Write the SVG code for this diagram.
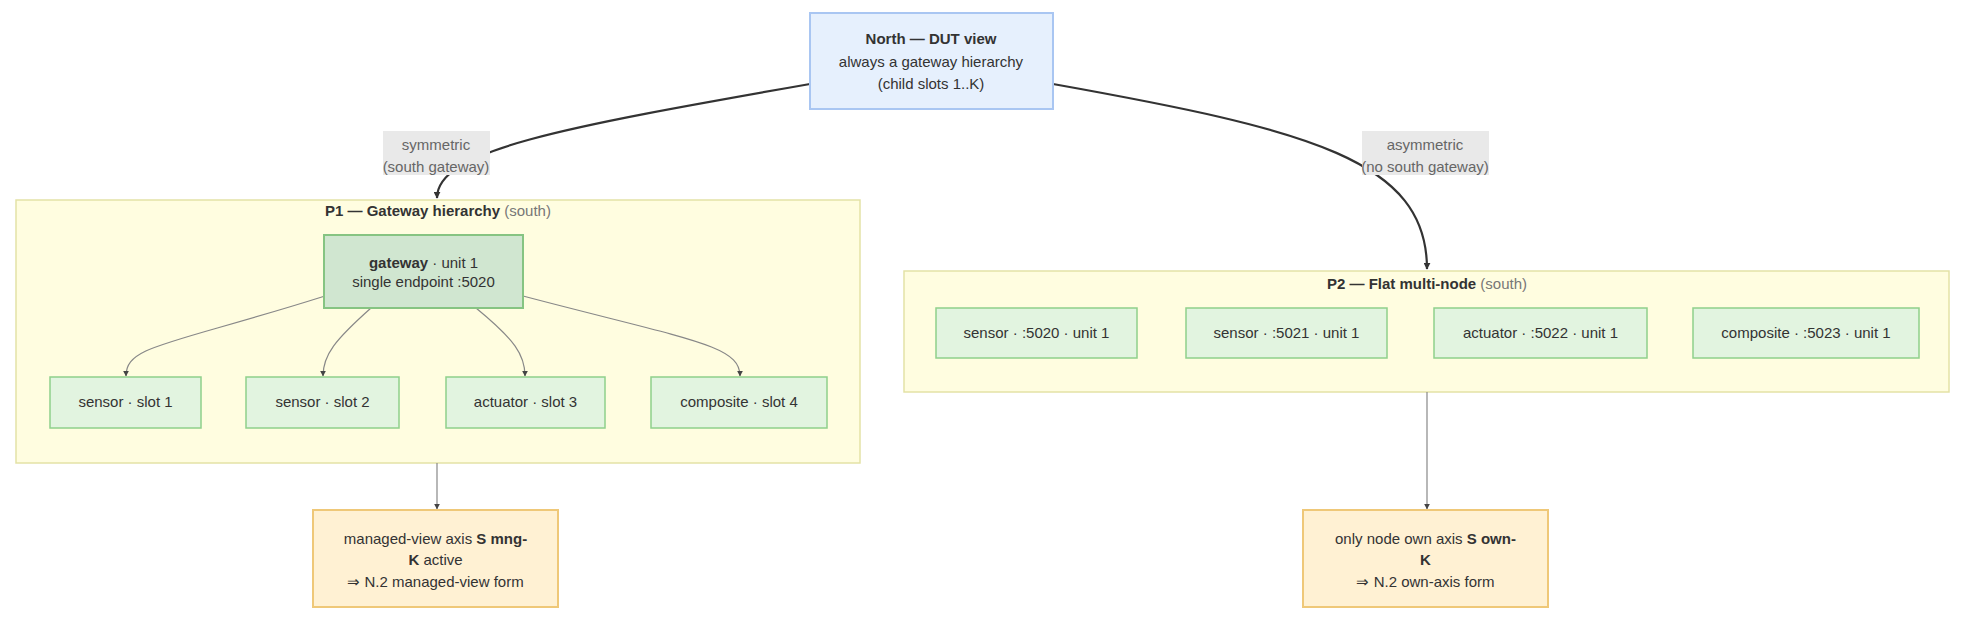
<svg xmlns="http://www.w3.org/2000/svg" width="1982" height="625" viewBox="0 0 1982 625">
<style>
text{font-family:"Liberation Sans",Arial,sans-serif;font-size:15px;fill:#333;text-anchor:middle}
.b{font-weight:bold}
.g{fill:#777}
.lbl{fill:#666}
.cl{fill:#fffde0;stroke:#e4e2a6;stroke-width:1.5}
.north{fill:#e6f0fd;stroke:#a9c6f2;stroke-width:2}
.gw{fill:#d0e6d0;stroke:#86c482;stroke-width:2}
.ch{fill:#e2f4e0;stroke:#8fd08b;stroke-width:1.5}
.res{fill:#fff1d3;stroke:#efc878;stroke-width:2}
.lb{fill:#e9e9e9}
.main{fill:none;stroke:#333;stroke-width:2.2}
.thin{fill:none;stroke:#888;stroke-width:1.2}
</style>
<defs>
<marker id="ah" viewBox="0 0 10 10" refX="9" refY="5" markerWidth="7" markerHeight="7" markerUnits="userSpaceOnUse" orient="auto"><path d="M0,0L10,5L0,10z" fill="#333"/></marker>
<marker id="ahs" viewBox="0 0 10 10" refX="9" refY="5" markerWidth="6" markerHeight="6" markerUnits="userSpaceOnUse" orient="auto"><path d="M0,0L10,5L0,10z" fill="#444"/></marker>
</defs>

<g id="P1">
<rect class="cl" x="16" y="200" width="844" height="263"/>
<text x="438" y="216"><tspan class="b">P1 — Gateway hierarchy</tspan><tspan class="g"> (south)</tspan></text>
</g>
<g id="P2">
<rect class="cl" x="904" y="271" width="1045" height="121"/>
<text x="1427" y="289"><tspan class="b">P2 — Flat multi-node</tspan><tspan class="g"> (south)</tspan></text>
</g>

<g id="connectors">
<path class="main" d="M810,84 C560,128 437,150 437,198" marker-end="url(#ah)"/>
<path class="main" d="M1053,84 C1310,130 1427,160 1427,269" marker-end="url(#ah)"/>
<path class="thin" d="M325,296 C170,345 126,345 126,376" marker-end="url(#ahs)"/>
<path class="thin" d="M371,308 C335,340 323,355 323,376" marker-end="url(#ahs)"/>
<path class="thin" d="M476,308 C515,340 525,355 525,376" marker-end="url(#ahs)"/>
<path class="thin" d="M523,296 C690,340 740,345 740,376" marker-end="url(#ahs)"/>
<path class="thin" d="M437,463 L437,509" marker-end="url(#ahs)"/>
<path class="thin" d="M1427,392 L1427,509" marker-end="url(#ahs)"/>
</g>

<g id="lbl-sym">
<rect class="lb" x="383" y="131" width="107" height="44"/>
<text class="lbl" x="436" y="150">symmetric</text>
<text class="lbl" x="436" y="172">(south gateway)</text>
</g>
<g id="lbl-asym">
<rect class="lb" x="1362" y="131" width="127" height="44"/>
<text class="lbl" x="1425" y="150">asymmetric</text>
<text class="lbl" x="1425" y="172">(no south gateway)</text>
</g>

<g id="north">
<rect class="north" x="810" y="13" width="243" height="96"/>
<text class="b" x="931" y="44">North — DUT view</text>
<text x="931" y="67">always a gateway hierarchy</text>
<text x="931" y="89">(child slots 1..K)</text>
</g>

<g id="gateway">
<rect class="gw" x="324" y="235" width="199" height="73"/>
<text x="423.5" y="268"><tspan class="b">gateway</tspan> · unit 1</text>
<text x="423.5" y="287">single endpoint :5020</text>
</g>

<g id="slot1"><rect class="ch" x="50" y="377" width="151" height="51"/><text x="125.5" y="407">sensor · slot 1</text></g>
<g id="slot2"><rect class="ch" x="246" y="377" width="153" height="51"/><text x="322.5" y="407">sensor · slot 2</text></g>
<g id="slot3"><rect class="ch" x="446" y="377" width="159" height="51"/><text x="525.5" y="407">actuator · slot 3</text></g>
<g id="slot4"><rect class="ch" x="651" y="377" width="176" height="51"/><text x="739" y="407">composite · slot 4</text></g>

<g id="n5020"><rect class="ch" x="936" y="308" width="201" height="50"/><text x="1036.5" y="338">sensor · :5020 · unit 1</text></g>
<g id="n5021"><rect class="ch" x="1186" y="308" width="201" height="50"/><text x="1286.5" y="338">sensor · :5021 · unit 1</text></g>
<g id="n5022"><rect class="ch" x="1434" y="308" width="213" height="50"/><text x="1540.5" y="338">actuator · :5022 · unit 1</text></g>
<g id="n5023"><rect class="ch" x="1693" y="308" width="226" height="50"/><text x="1806" y="338">composite · :5023 · unit 1</text></g>

<g id="managed">
<rect class="res" x="313" y="510" width="245" height="97"/>
<text x="435.5" y="544">managed-view axis <tspan class="b">S mng-</tspan></text>
<text x="435.5" y="565"><tspan class="b">K</tspan> active</text>
<text x="435.5" y="587">⇒ N.2 managed-view form</text>
</g>
<g id="own">
<rect class="res" x="1303" y="510" width="245" height="97"/>
<text x="1425.5" y="544">only node own axis <tspan class="b">S own-</tspan></text>
<text x="1425.5" y="565"><tspan class="b">K</tspan></text>
<text x="1425.5" y="587">⇒ N.2 own-axis form</text>
</g>
</svg>
